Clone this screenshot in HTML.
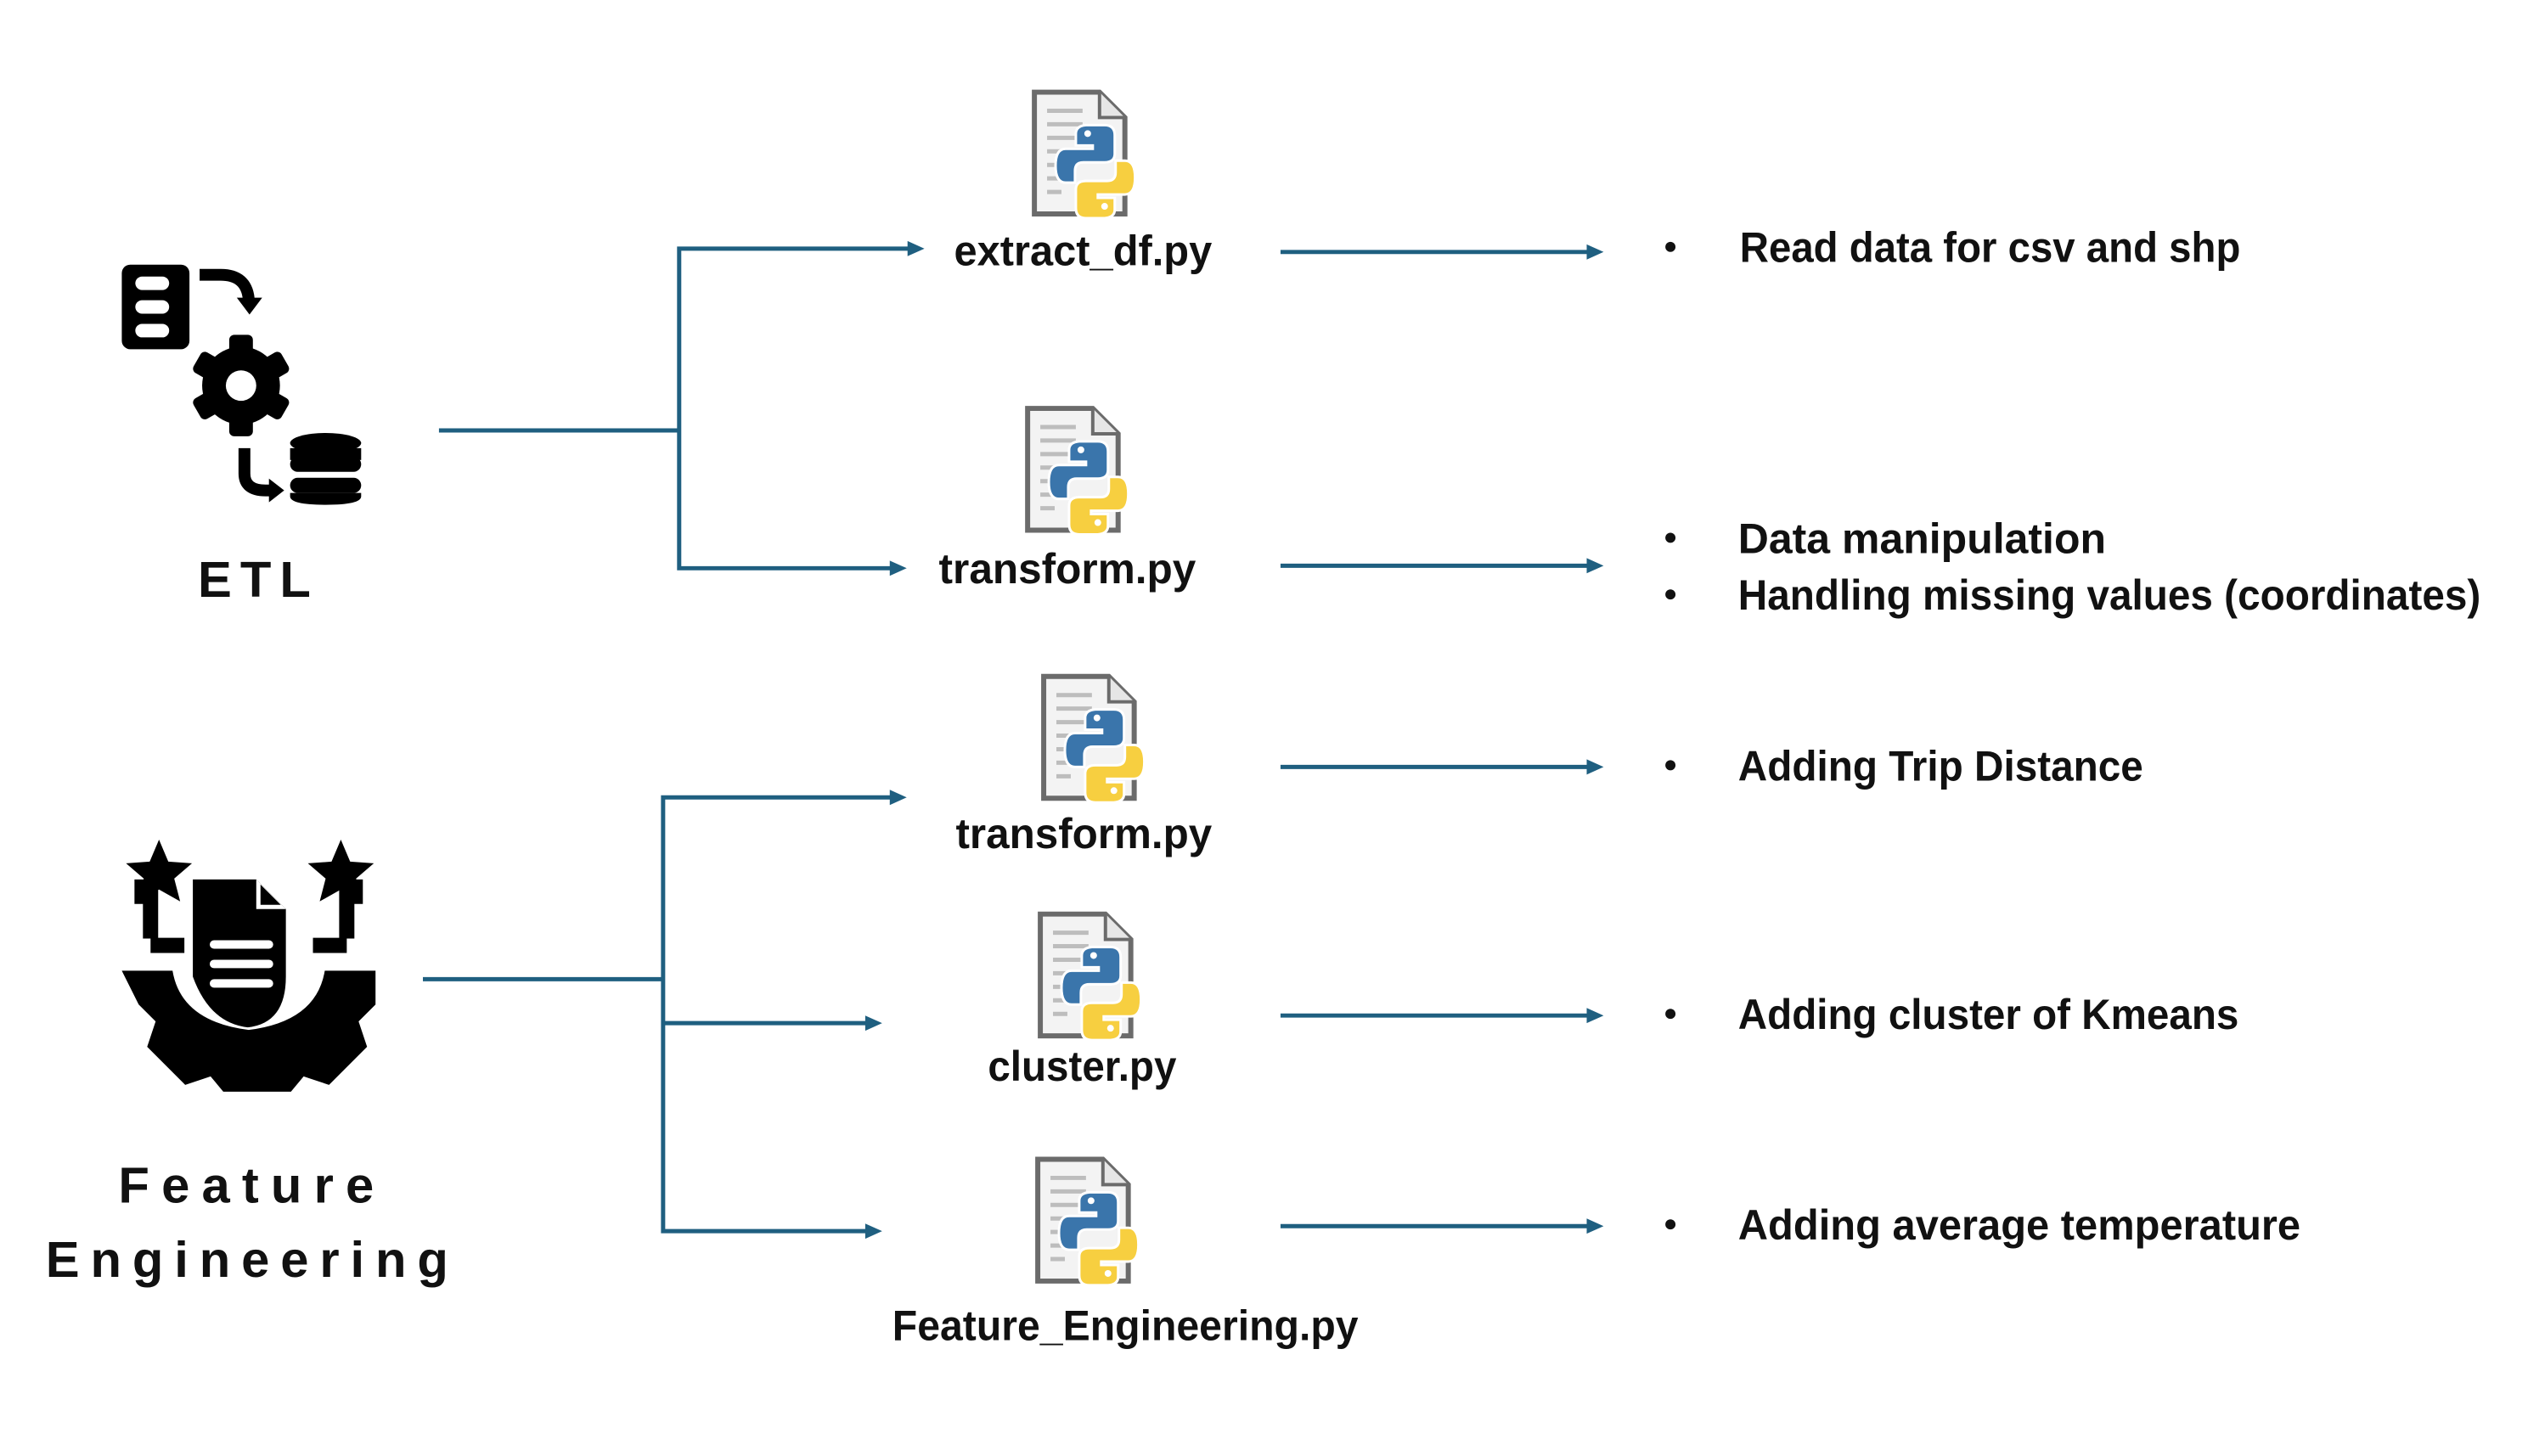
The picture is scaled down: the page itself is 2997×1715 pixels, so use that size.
<!DOCTYPE html>
<html><head><meta charset="utf-8"><style>
html,body{margin:0;padding:0;background:#fff}
svg{display:block}
text{font-family:"Liberation Sans",sans-serif;font-weight:bold;fill:#111}
</style></head><body>
<svg width="2997" height="1715" viewBox="0 0 2997 1715" xmlns="http://www.w3.org/2000/svg">
<defs>
<g id="doc">
  <path d="M3 3 H80 L110 33 V147 H3 Z" fill="#f3f3f3" stroke="#6b6b6b" stroke-width="6"/>
  <path d="M80 3 V33 H110" fill="#e6e6e6" stroke="#6b6b6b" stroke-width="4"/>
  <g stroke="#bdbdbd" stroke-width="5">
    <line x1="18" y1="25" x2="60" y2="25"/><line x1="18" y1="41" x2="60" y2="41"/>
    <line x1="18" y1="57" x2="60" y2="57"/><line x1="18" y1="73" x2="45" y2="73"/>
    <line x1="18" y1="89" x2="35" y2="89"/><line x1="18" y1="105" x2="35" y2="105"/>
    <line x1="18" y1="121" x2="35" y2="121"/>
  </g>
  <path d="M52 52 q0-9 12-10 h22 q12 0 12 12 v22 q0 10-12 10 h-25 q-10 0-10 10 v14 h-11 q-12 0-12-20 q0-20 12-20 h32 v-4 h-20 z" fill="#3a75ab" stroke="#fff" stroke-width="3"/>
  <path d="M98 152 q0 9-12 10 h-22 q-12 0-12-12 v-22 q0-10 12-10 h25 q10 0 10-10 v-14 h11 q12 0 12 20 q0 20-12 20 h-32 v4 h20 z" fill="#f7cf40" stroke="#fff" stroke-width="3" transform="translate(0,-10)"/>
  <circle cx="66" cy="52" r="4" fill="#fff"/>
  <circle cx="86" cy="138" r="4" fill="#fff"/>
</g>
<path id="arr" d="M0 -9 L20 0 L0 9 Z" fill="#1f5f80"/>
</defs>
<g transform="scale(0.996)">
<g stroke="#1f5f80" stroke-width="5" fill="none">
  <polyline points="519,509 803,509"/>
  <polyline points="1075,294 803,294 803,672 1055,672"/>
  <polyline points="500,1158 784,1158"/>
  <polyline points="1055,943 784,943 784,1456 1026,1456"/>
  <polyline points="784,1210 1026,1210"/>
  <line x1="1514" y1="298" x2="1878" y2="298"/>
  <line x1="1514" y1="669" x2="1878" y2="669"/>
  <line x1="1514" y1="907" x2="1878" y2="907"/>
  <line x1="1514" y1="1201" x2="1878" y2="1201"/>
  <line x1="1514" y1="1450" x2="1878" y2="1450"/>
</g>
<use href="#arr" x="1073" y="294"/>
<use href="#arr" x="1052" y="672"/>
<use href="#arr" x="1052" y="943"/>
<use href="#arr" x="1023" y="1210"/>
<use href="#arr" x="1023" y="1456"/>
<use href="#arr" x="1876" y="298"/>
<use href="#arr" x="1876" y="669"/>
<use href="#arr" x="1876" y="907"/>
<use href="#arr" x="1876" y="1201"/>
<use href="#arr" x="1876" y="1450"/>

<use href="#doc" x="1220" y="106"/>
<use href="#doc" x="1212" y="480"/>
<use href="#doc" x="1231" y="797"/>
<use href="#doc" x="1227" y="1078"/>
<use href="#doc" x="1224" y="1368"/>

<g font-size="50">
<text x="1128" y="314" textLength="305" lengthAdjust="spacingAndGlyphs">extract_df.py</text>
<text x="1110" y="690" textLength="304" lengthAdjust="spacingAndGlyphs">transform.py</text>
<text x="1130" y="1003" textLength="303" lengthAdjust="spacingAndGlyphs">transform.py</text>
<text x="1168" y="1278" textLength="223" lengthAdjust="spacingAndGlyphs">cluster.py</text>
<text x="1055" y="1585" textLength="551" lengthAdjust="spacingAndGlyphs">Feature_Engineering.py</text>

<text x="2057" y="310" textLength="592" lengthAdjust="spacingAndGlyphs">Read data for csv and shp</text>
<text x="2055" y="654" textLength="435" lengthAdjust="spacingAndGlyphs">Data manipulation</text>
<text x="2055" y="721" textLength="878" lengthAdjust="spacingAndGlyphs">Handling missing values (coordinates)</text>
<text x="2055" y="923" textLength="479" lengthAdjust="spacingAndGlyphs">Adding Trip Distance</text>
<text x="2055" y="1217" textLength="592" lengthAdjust="spacingAndGlyphs">Adding cluster of Kmeans</text>
<text x="2055" y="1466" textLength="665" lengthAdjust="spacingAndGlyphs">Adding average temperature</text>
</g>
<g fill="#111">
<circle cx="1975" cy="292" r="6"/>
<circle cx="1975" cy="636" r="6"/>
<circle cx="1975" cy="703" r="6"/>
<circle cx="1975" cy="905" r="6"/>
<circle cx="1975" cy="1199" r="6"/>
<circle cx="1975" cy="1448" r="6"/>
</g>

<g font-size="60">
<text x="234" y="706" letter-spacing="10">ETL</text>
<text x="140" y="1422" textLength="302" lengthAdjust="spacing">Feature</text>
<text x="54" y="1510" textLength="476" lengthAdjust="spacing">Engineering</text>
</g>

<g fill="#000">
  <rect x="144" y="313" width="80" height="100" rx="10"/>
  <rect x="160" y="327" width="40" height="16" rx="8" fill="#fff"/>
  <rect x="160" y="355" width="40" height="16" rx="8" fill="#fff"/>
  <rect x="160" y="383" width="40" height="16" rx="8" fill="#fff"/>
  <path d="M236 325 h25 q30 0 33 28" fill="none" stroke="#000" stroke-width="14"/>
  <path d="M280 352 l30 0 l-15 20 z"/>
  <g transform="translate(285,456)">
    <circle r="46"/>
    <rect x="-14" y="-60" width="28" height="120" rx="6"/>
    <rect x="-14" y="-60" width="28" height="120" rx="6" transform="rotate(60)"/>
    <rect x="-14" y="-60" width="28" height="120" rx="6" transform="rotate(120)"/>
    <circle r="18" fill="#fff"/>
  </g>
  <path d="M289 530 v30 q0 20 25 20 h8" fill="none" stroke="#000" stroke-width="14"/>
  <path d="M318 566 l18 14 l-18 14 z"/>
  <ellipse cx="385" cy="524" rx="42" ry="12"/>
  <rect x="343" y="540" width="84" height="18" rx="9"/>
  <rect x="343" y="565" width="84" height="18" rx="9"/>
  <rect x="343" y="530" width="84" height="14"/>
  <path d="M343 583 h84 v4 q0 10-42 10 q-42 0-42-10z"/>
</g>

<g fill="#000">
  <path d="M144 1148 h60 q10 60 90 70 q80-10 90-70 h60 v40 l-20 20 l10 30 l-45 45 l-30 -10 l-15 18 h-80 l-15 -18 l-30 10 l-45 -45 l10 -30 l-20 -20 z"/>
  <path d="M228 1040 h75 l35 35 v80 q0 55-45 60 q-45 -5-65-60 z"/>
  <path d="M303 1040 v35 h35" fill="#fff"/>
  <path d="M308 1046 v24 h24 z" fill="#000"/>
  <g fill="#fff">
    <rect x="248" y="1112" width="75" height="10" rx="5"/>
    <rect x="248" y="1135" width="75" height="10" rx="5"/>
    <rect x="248" y="1158" width="75" height="10" rx="5"/>
  </g>
  <path d="M178 1110 v-50 h-10 v-20" fill="none" stroke="#000" stroke-width="18"/>
  <path d="M178 1118 h40" stroke="#000" stroke-width="18"/>
  <path d="M410 1110 v-50 h10 v-20" fill="none" stroke="#000" stroke-width="18"/>
  <path d="M370 1118 h40" stroke="#000" stroke-width="18"/>
  <polygon points="188,993 199,1019 227,1021 206,1039 213,1066 188,1052 163,1066 170,1039 149,1021 177,1019"/>
  <polygon points="403,993 414,1019 442,1021 421,1039 428,1066 403,1052 378,1066 385,1039 364,1021 392,1019"/>
</g>
</g>
</svg>
</body></html>
